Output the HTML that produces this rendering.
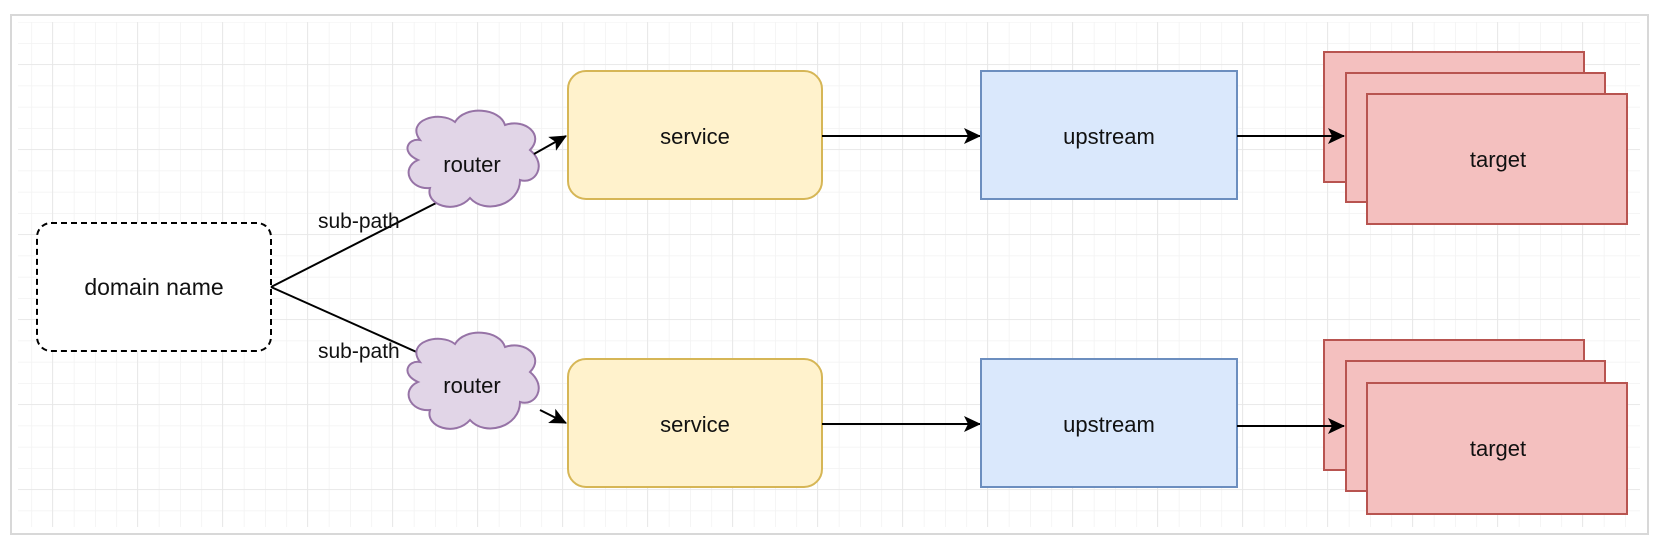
<!DOCTYPE html>
<html><head><meta charset="utf-8"><style>
html,body{margin:0;padding:0;background:#fff;}
svg{display:block;}
text{font-family:"Liberation Sans",Arial,sans-serif;fill:#111;}
</style></head><body>
<svg width="1664" height="542" viewBox="0 0 1664 542" xmlns="http://www.w3.org/2000/svg">
<defs>
<pattern id="minor" x="10" y="0.5" width="21.25" height="21.25" patternUnits="userSpaceOnUse">
<path d="M0 0H21.25M0 0V21.25" stroke="#f2f2f2" stroke-width="1.5" fill="none"/>
</pattern>
<pattern id="major" x="52" y="64" width="85" height="85" patternUnits="userSpaceOnUse">
<path d="M0 0H85M0 0V85" stroke="#e6e6e6" stroke-width="1.5" fill="none"/>
</pattern>
<marker id="ah" markerWidth="18" markerHeight="16" refX="16" refY="8" orient="auto" markerUnits="userSpaceOnUse">
<path d="M0 0 L17 8 L0 16 L4 8 Z" fill="#000"/>
</marker>
</defs>
<rect x="11" y="15" width="1637" height="519" fill="#fff" stroke="#d8d8d8" stroke-width="2"/>
<rect x="18" y="22" width="1622" height="505" fill="url(#minor)"/>
<rect x="18" y="22" width="1622" height="505" fill="url(#major)"/>

<rect x="37" y="223" width="234" height="128" rx="14" fill="#fff" stroke="#000" stroke-width="2" stroke-dasharray="6,4"/>
<text x="154" y="295" font-size="23" text-anchor="middle">domain name</text>

<path d="M271 287 L444 199" stroke="#000" stroke-width="2" fill="none"/>
<path d="M271 287 L421 354" stroke="#000" stroke-width="2" fill="none"/>
<text x="318" y="228" font-size="21">sub-path</text>
<text x="318" y="358" font-size="21">sub-path</text>

<g fill="#e1d5e7" stroke="#9673a6" stroke-width="2">
<path d="M420 140 C405 120 440 110 455 122 C465 105 500 108 505 125 C525 118 545 135 530 150 C548 165 535 185 520 180 C520 205 485 215 470 198 C455 215 425 205 430 188 C410 190 400 168 418 160 C400 152 408 138 420 140 Z"/>
<path d="M420 362 C405 342 440 332 455 344 C465 327 500 330 505 347 C525 340 545 357 530 372 C548 387 535 407 520 402 C520 427 485 437 470 420 C455 437 425 427 430 410 C410 412 400 390 418 382 C400 374 408 360 420 362 Z"/>
</g>
<text x="472" y="172" font-size="22" text-anchor="middle">router</text>
<text x="472" y="393" font-size="22" text-anchor="middle">router</text>

<path d="M534 154 L566 136" stroke="#000" stroke-width="2" fill="none" marker-end="url(#ah)"/>
<path d="M540 410 L566 423" stroke="#000" stroke-width="2" fill="none" marker-end="url(#ah)"/>

<rect x="568" y="71" width="254" height="128" rx="18" fill="#fff2cc" stroke="#d6b656" stroke-width="2"/>
<rect x="568" y="359" width="254" height="128" rx="18" fill="#fff2cc" stroke="#d6b656" stroke-width="2"/>
<text x="695" y="144" font-size="22" text-anchor="middle">service</text>
<text x="695" y="432" font-size="22" text-anchor="middle">service</text>

<path d="M822 136 L980 136" stroke="#000" stroke-width="2" marker-end="url(#ah)"/>
<path d="M822 424 L980 424" stroke="#000" stroke-width="2" marker-end="url(#ah)"/>

<rect x="981" y="71" width="256" height="128" fill="#dae8fc" stroke="#6c8ebf" stroke-width="2"/>
<rect x="981" y="359" width="256" height="128" fill="#dae8fc" stroke="#6c8ebf" stroke-width="2"/>
<text x="1109" y="144" font-size="22" text-anchor="middle">upstream</text>
<text x="1109" y="432" font-size="22" text-anchor="middle">upstream</text>

<g fill="#f4c0bf" stroke="#b85450" stroke-width="2">
<rect x="1324" y="52" width="260" height="130"/>
<rect x="1346" y="73" width="259" height="129"/>
<rect x="1367" y="94" width="260" height="130"/>
<rect x="1324" y="340" width="260" height="130"/>
<rect x="1346" y="361" width="259" height="130"/>
<rect x="1367" y="383" width="260" height="131"/>
</g>
<text x="1498" y="167" font-size="22" text-anchor="middle">target</text>
<text x="1498" y="456" font-size="22" text-anchor="middle">target</text>

<path d="M1237 136 L1344 136" stroke="#000" stroke-width="2" marker-end="url(#ah)"/>
<path d="M1237 426 L1344 426" stroke="#000" stroke-width="2" marker-end="url(#ah)"/>
</svg>
</body></html>
